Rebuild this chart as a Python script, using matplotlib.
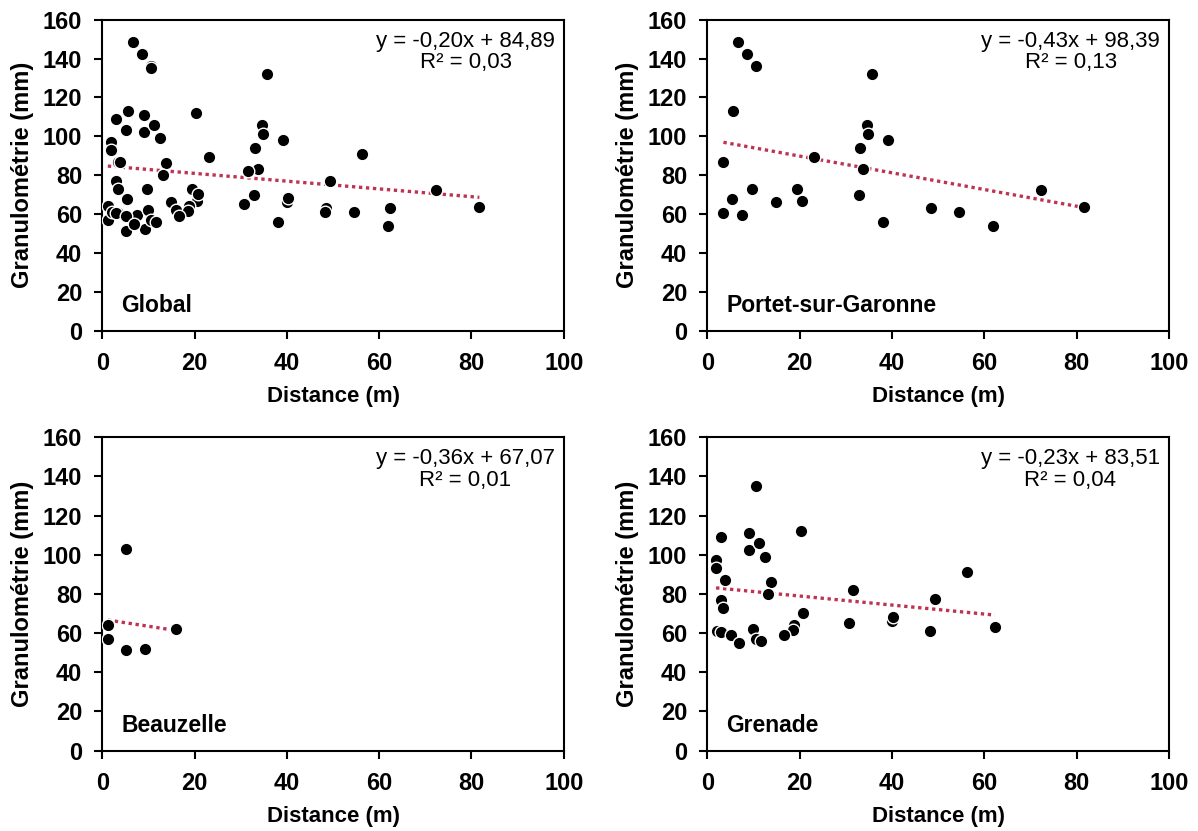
import matplotlib
matplotlib.use("Agg")
import matplotlib.pyplot as plt
import numpy as np

plt.rcParams['font.family'] = ['Liberation Sans', 'DejaVu Sans']

# ---- data ----
portet_x = [6.7, 8.5, 10.5, 35.6, 5.5, 34.7, 34.9, 39.1, 3.5, 23.2, 33.1, 33.8, 9.6, 19.4,
            20.6, 32.9, 5.3, 3.5, 7.6, 14.9, 38.1, 48.5, 54.6, 61.8, 72.2, 81.7]
portet_y = [148.5, 142.4, 136.3, 132.2, 113.2, 106, 101.2, 98, 87, 89.1, 93.9, 83.1, 72.9, 72.9,
            66.9, 69.9, 67.8, 60.7, 59.7, 65.9, 55.8, 63, 60.9, 53.9, 72.1, 63.8]

beauzelle_x = [5.05, 1.2, 1.2, 5.1, 9.2, 15.9]
beauzelle_y = [103.1, 64.2, 57, 51.1, 52.1, 62]

grenade_x = [10.5, 3.0, 9.1, 20.2, 9.0, 11.3, 12.5, 1.9, 1.9, 3.8, 13.9, 13.1, 31.5, 2.9, 3.5,
             20.8, 18.8, 18.5, 30.8, 2.0, 3.0, 5.1, 6.8, 10.0, 10.5, 11.6, 16.7, 40.1, 40.3,
             49.3, 48.2, 56.2, 62.3]
grenade_y = [135, 109, 111.1, 112.1, 102.2, 105.9, 99.1, 97.1, 93, 87, 86, 80, 81.9, 77, 72.7,
             70.1, 64.2, 61.6, 65.1, 61.1, 60.3, 59.1, 55, 62, 57, 55.8, 59.1, 66, 68.4,
             77.2, 61, 91.1, 63]

global_x = portet_x + beauzelle_x + grenade_x
global_y = portet_y + beauzelle_y + grenade_y

panel_names = ["Global", "Portet-sur-Garonne", "Beauzelle", "Grenade"]
slopes = [-0.20, -0.43, -0.36, -0.23]
intercepts = [84.89, 98.39, 67.07, 83.51]
r2_values = [0.03, 0.13, 0.01, 0.04]
xs_list = [global_x, portet_x, beauzelle_x, grenade_x]
ys_list = [global_y, portet_y, beauzelle_y, grenade_y]

x_ticks = [0, 20, 40, 60, 80, 100]
y_ticks = [0, 20, 40, 60, 80, 100, 120, 140, 160]

def fr(v):
    return f"{v:.2f}".replace(".", ",")

W, H = 1198, 831
fig = plt.figure(figsize=(W / 100, H / 100), dpi=100)

positions = [
    (102.3, 19.7, 461.5, 310.8),
    (707.3, 19.7, 461.5, 310.8),
    (102.3, 437.3, 461.5, 313.2),
    (707.3, 437.3, 461.5, 313.2),
]

trend_color = '#BE3352'

for i, (l, t, w, h) in enumerate(positions):
    ax = fig.add_axes([l / W, (H - t - h) / H, w / W, h / H])
    xs = np.array(xs_list[i])
    ys = np.array(ys_list[i])
    xl = np.array([xs.min(), xs.max()])
    ax.plot(xl, slopes[i] * xl + intercepts[i], linestyle=(0, (1, 1.1)), color=trend_color,
            linewidth=2.4, zorder=2)
    ax.scatter(xs, ys, s=82, color='black', edgecolor='white', linewidth=1.0, zorder=3)
    ax.set_xlim(0, 100)
    ax.set_ylim(0, 160)
    ax.set_xticks(x_ticks)
    ax.set_yticks(y_ticks)
    ax.tick_params(direction='out', length=5.5, width=1.5, labelsize=17)
    ax.tick_params(axis='x', pad=10)
    ax.tick_params(axis='y', pad=9)
    for lab in ax.get_xticklabels() + ax.get_yticklabels():
        lab.set_fontweight('bold')
    for sp in ax.spines.values():
        sp.set_linewidth(1.5)
    ax.set_xlabel("Distance (m)", fontsize=16, fontweight='bold', labelpad=8)
    ax.set_ylabel("Granulométrie (mm)", fontsize=17, fontweight='bold', labelpad=6)
    ax.text(0.041, 0.043, panel_names[i], transform=ax.transAxes, fontsize=16.5,
            fontweight='bold', ha='left', va='bottom')
    eq = f"y = {fr(slopes[i])}x + {fr(intercepts[i])}\nR² = {fr(r2_values[i])}"
    ax.text(0.981, 0.965, eq, transform=ax.transAxes, fontsize=16, ha='right', va='top',
            multialignment='center', linespacing=1.05)

fig.savefig("out.png", dpi=100)
